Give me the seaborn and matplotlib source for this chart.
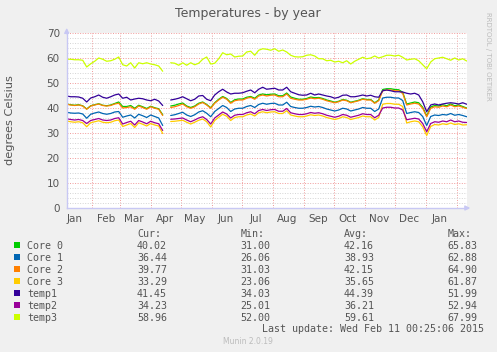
import numpy as np
import pandas as pd
import matplotlib
matplotlib.use('Agg')
import matplotlib.pyplot as plt
import matplotlib.dates as mdates
from matplotlib.patches import Rectangle
from matplotlib.ticker import MultipleLocator
import seaborn as sns

nan = np.nan

# one reading every 4 days, 7 Jan 2014 .. 11 Feb 2015
dates = pd.date_range('2014-01-07', periods=101, freq='4D')

core0 = [41.6, 41.3, 41.1, 41.3, 40.9, 39.6, 40.9, 41.3, 41.7, 41.1,
         40.9, 41.2, 41.8, 42.4, 40.6, 40.6, 41.0, 39.9, 41.1, 40.5,
         39.8, 40.7, 40.1, 39.7, 37.3, nan, 40.8, 41.1, 41.6, 42.0,
         40.8, 40.2, 40.8, 41.9, 42.4, 41.4, 40.1, 42.1, 43.5, 44.6,
         43.8, 42.2, 43.3, 43.6, 43.6, 44.3, 44.6, 43.9, 45.2, 45.6,
         45.3, 45.5, 45.6, 44.9, 44.9, 46.0, 44.4, 43.9, 43.5, 43.5,
         43.8, 44.4, 44.1, 44.2, 43.8, 43.2, 42.8, 42.3, 42.7, 43.4,
         43.1, 42.3, 42.7, 43.1, 43.7, 43.4, 43.4, 42.1, 43.2, 47.4,
         47.7, 47.7, 47.4, 47.3, 46.3, 41.6, 42.0, 42.4, 42.1, 40.3,
         36.8, 40.4, 41.0, 40.8, 41.3, 40.9, 41.6, 40.9, 41.2, 40.6, 40.0]
core1 = [38.3, 38.0, 37.9, 38.0, 37.6, 35.9, 37.5, 38.0, 38.4, 37.8,
         37.5, 37.8, 38.4, 38.6, 36.3, 36.8, 37.2, 36.0, 37.5, 36.9,
         36.2, 37.2, 36.6, 36.0, 33.0, nan, 37.0, 37.3, 37.8, 38.3,
         37.2, 36.6, 37.3, 38.4, 38.9, 37.9, 36.5, 38.6, 39.8, 41.0,
         40.2, 38.6, 39.6, 39.9, 39.9, 40.6, 41.0, 40.2, 41.4, 41.9,
         41.5, 41.8, 41.9, 41.2, 41.2, 42.3, 40.6, 40.2, 39.9, 39.9,
         40.2, 40.7, 40.4, 40.6, 40.2, 39.6, 39.2, 38.8, 39.2, 39.9,
         39.6, 38.8, 39.2, 39.6, 40.2, 39.9, 39.9, 38.6, 39.6, 44.0,
         44.3, 44.3, 44.0, 44.0, 43.0, 37.8, 38.2, 38.5, 38.2, 36.6,
         33.0, 36.6, 37.2, 37.0, 37.4, 37.2, 37.8, 37.1, 37.4, 37.0, 36.5]
core2 = [41.5, 41.2, 41.0, 41.2, 40.8, 39.5, 40.8, 41.2, 41.6, 41.0,
         40.8, 41.0, 41.6, 41.9, 40.0, 40.2, 40.5, 39.5, 40.8, 40.2,
         39.5, 40.5, 39.9, 39.5, 37.0, nan, 40.2, 40.5, 41.0, 41.6,
         40.5, 39.9, 40.5, 41.6, 42.2, 41.2, 39.9, 41.9, 43.2, 44.3,
         43.5, 41.9, 42.9, 43.2, 43.2, 43.9, 44.3, 43.5, 44.8, 45.2,
         44.8, 45.1, 45.2, 44.5, 44.5, 45.6, 43.9, 43.5, 43.2, 43.2,
         43.5, 44.0, 43.7, 43.9, 43.5, 42.9, 42.5, 42.1, 42.5, 43.2,
         42.9, 42.1, 42.5, 42.9, 43.5, 43.2, 43.2, 41.9, 42.9, 46.9,
         47.2, 47.2, 46.9, 46.9, 45.9, 41.2, 41.6, 41.9, 41.6, 39.9,
         36.5, 39.9, 40.5, 40.3, 40.8, 40.5, 41.2, 40.5, 40.8, 40.3, 39.8]
core3 = [34.8, 34.5, 34.3, 34.5, 34.1, 32.5, 34.1, 34.5, 34.9, 34.3,
         34.1, 34.3, 34.9, 35.2, 32.6, 33.2, 33.8, 32.2, 34.1, 33.5,
         32.8, 33.8, 33.2, 32.8, 29.8, nan, 34.6, 34.7, 34.9, 35.1,
         34.3, 33.6, 34.3, 35.1, 35.6, 34.5, 32.4, 35.0, 36.3, 37.5,
         36.7, 35.0, 36.2, 36.5, 36.5, 37.2, 37.6, 36.8, 38.1, 38.5,
         38.1, 38.4, 38.5, 37.8, 37.8, 38.9, 37.2, 36.8, 36.5, 36.5,
         36.8, 37.3, 37.0, 37.2, 36.8, 36.2, 35.8, 35.4, 35.8, 36.5,
         36.2, 35.4, 35.8, 36.2, 36.8, 36.5, 36.5, 35.2, 36.2, 41.5,
         41.8, 41.8, 41.5, 41.5, 40.6, 34.0, 34.5, 34.8, 34.5, 32.5,
         29.0, 32.6, 33.4, 33.2, 33.7, 33.4, 34.0, 33.4, 33.7, 33.2, 33.3]
temp1 = [44.8, 44.5, 44.5, 44.4, 43.9, 42.4, 44.0, 44.5, 45.2, 44.3,
         43.9, 44.5, 45.2, 45.6, 43.9, 44.3, 43.2, 43.6, 43.9, 43.7,
         43.2, 42.9, 43.5, 42.8, 41.0, nan, 43.2, 43.5, 43.9, 44.5,
         43.7, 42.9, 43.5, 44.8, 45.0, 43.5, 42.9, 45.2, 46.5, 47.5,
         46.4, 45.6, 45.9, 45.9, 46.1, 46.7, 47.2, 46.1, 47.5, 48.3,
         47.5, 47.7, 47.9, 47.2, 47.2, 48.3, 46.5, 45.9, 45.3, 45.1,
         45.2, 45.9, 45.2, 45.6, 45.2, 44.8, 44.5, 43.9, 44.3, 45.1,
         45.2, 44.5, 44.5, 44.8, 45.2, 44.8, 45.1, 44.5, 44.3, 46.9,
         47.2, 46.9, 46.5, 46.5, 46.4, 45.9, 45.6, 45.9, 45.2, 42.5,
         38.5, 41.2, 41.6, 41.2, 41.6, 41.9, 42.1, 41.9, 41.6, 42.1, 41.5]
temp2 = [35.7, 35.4, 35.2, 35.4, 35.0, 33.8, 35.0, 35.4, 35.8, 35.2,
         35.0, 35.2, 35.8, 36.1, 33.6, 34.2, 34.7, 33.2, 35.0, 34.4,
         33.7, 34.7, 34.1, 33.7, 31.0, nan, 35.5, 35.6, 35.8, 36.0,
         35.2, 34.5, 35.2, 36.0, 36.5, 35.4, 33.6, 36.0, 37.2, 38.4,
         37.6, 36.0, 37.1, 37.4, 37.4, 38.1, 38.5, 37.7, 39.0, 39.4,
         39.0, 39.3, 39.4, 38.7, 38.7, 39.8, 38.1, 37.7, 37.4, 37.4,
         37.7, 38.2, 37.9, 38.1, 37.7, 37.1, 36.7, 36.3, 36.7, 37.4,
         37.1, 36.3, 36.7, 37.1, 37.7, 37.4, 37.4, 36.1, 37.1, 40.0,
         40.3, 40.3, 40.0, 40.0, 39.2, 35.3, 35.6, 35.9, 35.6, 33.8,
         30.5, 33.8, 34.5, 34.3, 34.8, 34.5, 35.2, 34.5, 34.8, 34.3, 34.2]
temp3 = [59.5, 59.5, 59.3, 59.3, 59.1, 56.4, 57.7, 58.7, 60.0, 59.5,
         58.7, 58.9, 59.5, 60.4, 57.3, 56.8, 58.1, 56.0, 58.1, 57.7,
         58.1, 57.6, 57.3, 56.8, 54.7, nan, 58.1, 57.9, 57.1, 58.1,
         57.1, 58.1, 57.3, 57.9, 59.5, 60.4, 57.6, 57.9, 59.7, 62.1,
         61.3, 61.6, 60.4, 60.7, 60.8, 62.4, 62.7, 61.1, 63.1, 63.7,
         63.5, 63.1, 63.7, 62.7, 63.2, 62.4, 61.1, 60.5, 60.4, 60.5,
         61.1, 61.3, 60.8, 59.7, 59.7, 58.9, 59.1, 58.4, 58.7, 58.1,
         58.9, 57.6, 58.7, 59.5, 60.3, 59.7, 60.0, 60.8, 60.0, 60.5,
         61.1, 61.1, 60.8, 61.1, 60.3, 59.2, 59.5, 59.7, 58.9, 57.3,
         55.7, 58.4, 59.7, 60.0, 60.3, 59.7, 59.1, 60.0, 59.2, 59.7, 58.8]

names = ['Core 0', 'Core 1', 'Core 2', 'Core 3', 'temp1', 'temp2', 'temp3']
colors = ['#00CC00', '#0066B3', '#FF8000', '#FFCC00', '#330099', '#990099', '#CCFF00']
series = [core0, core1, core2, core3, temp1, temp2, temp3]

cur = ['40.02', '36.44', '39.77', '33.29', '41.45', '34.23', '58.96']
vmin = ['31.00', '26.06', '31.03', '23.06', '34.03', '25.01', '52.00']
vavg = ['42.16', '38.93', '42.15', '35.65', '44.39', '36.21', '59.61']
vmax = ['65.83', '62.88', '64.90', '61.87', '51.99', '52.94', '67.99']

frames = []
for name, vals in zip(names, series):
    d = pd.DataFrame({'date': dates, 'value': vals, 'series': name})
    d['seg'] = d['value'].isna().cumsum()
    frames.append(d.dropna())
df = pd.concat(frames, ignore_index=True)

sns.set_style('white')
plt.rcParams['font.family'] = ['DejaVu Sans']

W, H = 497, 352
fig = plt.figure(figsize=(W / 100, H / 100), dpi=100, facecolor='#f0f0f0')
ax = fig.add_axes([66.7 / W, 1 - 208 / H, 400 / W, 175 / H])
ax.set_facecolor('white')

sns.lineplot(data=df, x='date', y='value', hue='series', units='seg',
             estimator=None, hue_order=names, palette=colors,
             linewidth=0.9, legend=False, ax=ax)

ax.set_xlim(dates[0], dates[-1])
ax.set_ylim(0, 70)
ax.set_xlabel('')
ax.set_ylabel('')

# grid like rrdtool
ax.yaxis.set_major_locator(MultipleLocator(10))
ax.yaxis.set_minor_locator(MultipleLocator(2))
ax.xaxis.set_major_locator(mdates.MonthLocator())
ax.xaxis.set_minor_locator(mdates.MonthLocator(bymonthday=15))
ax.xaxis.set_major_formatter(plt.NullFormatter())
ax.xaxis.set_minor_formatter(mdates.DateFormatter('%b'))
dot = (0, (1, 1.6))
ax.yaxis.grid(True, which='minor', color='#d4d4d4', linestyle=dot, linewidth=0.7)
ax.yaxis.grid(True, which='major', color='#f09a9a', linestyle=dot, linewidth=0.7)
ax.xaxis.grid(True, which='major', color='#f09a9a', linestyle=dot, linewidth=0.7)
ax.set_axisbelow(True)

ax.tick_params(axis='y', which='major', length=2, color='#f09a9a', pad=3,
               labelsize=7.5, labelcolor='#555555')
ax.tick_params(axis='y', which='minor', length=1.5, color='#c8c8c8')
ax.tick_params(axis='x', which='major', length=2.5, color='#f09a9a')
ax.tick_params(axis='x', which='minor', length=0, pad=4,
               labelsize=7.5, labelcolor='#555555')

for s in ['top', 'right']:
    ax.spines[s].set_visible(False)
for s in ['left', 'bottom']:
    ax.spines[s].set_color('#c8c8f4')
    ax.spines[s].set_linewidth(1.0)
ax.annotate('', xy=(0, 1.045), xytext=(0, 0.98), xycoords='axes fraction',
            arrowprops=dict(arrowstyle='-|>', color='#c8c8f4', lw=1, mutation_scale=7))
ax.annotate('', xy=(1.016, 0), xytext=(0.99, 0), xycoords='axes fraction',
            arrowprops=dict(arrowstyle='-|>', color='#c8c8f4', lw=1, mutation_scale=7))

fig.text(248 / W, 1 - 13 / H, 'Temperatures - by year', ha='center', va='center',
         fontsize=9, color='#555555')
fig.text(10 / W, 1 - 120 / H, 'degrees Celsius', ha='center', va='center',
         rotation=90, fontsize=8.2, color='#555555')
fig.text(488 / W, 1 - 56 / H, 'RRDTOOL / TOBI OETIKER', ha='center', va='center',
         rotation=270, fontsize=5, color='#bcbcbc')

mono = dict(family='DejaVu Sans Mono', fontsize=7.2, color='#555555', va='baseline')
cols = [137, 240.5, 344, 447.5]
for x, head in zip(cols, ['Cur:', 'Min:', 'Avg:', 'Max:']):
    fig.text(x / W, 1 - 237 / H, head, **mono)
for k, name in enumerate(names):
    base = 249 + 12 * k
    fig.patches.append(Rectangle((14 / W, 1 - (base - 1) / H), 6 / W, 6 / H,
                                 transform=fig.transFigure, facecolor=colors[k],
                                 edgecolor='none'))
    fig.text(27 / W, 1 - base / H, name, **mono)
    for x, v in zip(cols, [cur[k], vmin[k], vavg[k], vmax[k]]):
        fig.text(x / W, 1 - base / H, v, **mono)
fig.text(483.5 / W, 1 - 332.5 / H, 'Last update: Wed Feb 11 00:25:06 2015',
         ha='right', **mono)
fig.text(223 / W, 1 - 344 / H, 'Munin 2.0.19', fontsize=5.5, color='#bcbcbc',
         va='baseline')

fig.savefig('out.png', dpi=100, facecolor=fig.get_facecolor())
